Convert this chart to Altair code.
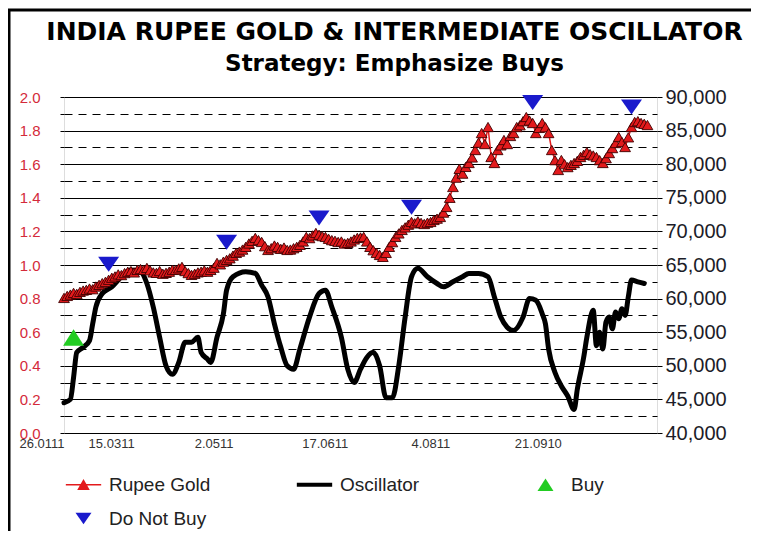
import altair as alt
import pandas as pd

# ---------------- data ----------------
# Rupee gold, one value per trading day (right axis)
gold_values = [
    60100, 60400, 60600, 60850, 60700, 61000, 61200, 61300, 61500, 61400,
    61800, 62050, 62300, 62500, 62800, 63100, 63300, 63600, 63500, 63800,
    64000, 64100, 63900, 64270, 64400, 64300, 64570, 64200, 63900, 63830,
    64100, 63700, 63830, 64000, 64300, 64270, 64500, 64720, 64100, 63800,
    63530, 63700, 63900, 64000, 64200, 64000, 64270, 64600, 65310, 65100,
    65500, 65760, 66000, 66400, 66800, 67000, 67300, 67700, 68200, 68600,
    69030, 68700, 68430, 67800, 67240, 67500, 67900, 67700, 67400, 67600,
    67240, 67300, 67500, 67700, 68000, 68500, 69180, 69000, 69400, 69770,
    69500, 69300, 69180, 68900, 68700, 68600, 68430, 68500, 68200, 68290,
    68500, 68800, 69030, 69100, 69180, 68500, 67700, 67200, 66800, 66500,
    66210, 66800, 67700, 68400, 69180, 69700, 70220, 70600, 71000, 71410,
    71200, 71500, 71260, 71100, 71300, 71410, 71700, 71900, 72150, 72800,
    73640, 75000, 76610, 78000, 79300, 78600, 79600, 80180, 81000, 82110,
    83200, 84640, 83000, 85530, 81070, 80180, 82110, 82800, 83600, 83000,
    84200, 84640, 85530, 85800, 86400, 87020, 86500, 86130, 84640, 85400,
    86130, 85500, 84640, 82110, 80600, 79140, 80620, 80000, 79570, 79900,
    80180, 80500, 81070, 81400, 81810, 81500, 81300, 81070, 80600, 80180,
    80900, 81660, 82400, 83150, 84050, 83300, 82560, 84000, 85530, 86280,
    86400, 86130, 86000, 85830,
]
gold_days = list(range(len(gold_values)))

# Intermediate oscillator (left axis)
osc_days = [0, 2, 3, 4, 6, 8, 9, 10, 12, 15, 18, 21, 24, 26, 28, 30, 32, 34, 36, 38,
            40, 42, 43, 45, 46, 48, 50, 51, 53, 57, 60, 62, 64, 66, 68, 70, 72, 74, 77, 80,
            82, 84, 87, 89, 91, 93, 95, 97, 99, 101, 103, 105, 107, 109, 111, 114, 117, 119, 122, 125,
            127, 130, 133, 135, 137, 139, 141, 144, 146, 148, 150, 151, 152, 154, 156, 158, 160, 161, 163, 164,
            166, 167, 168, 169, 170, 171, 172, 173, 174, 175, 176, 177, 178, 180, 182]
osc_values = [0.18, 0.20, 0.33, 0.48, 0.51, 0.55, 0.65, 0.75, 0.83, 0.87, 0.93, 0.97, 0.96, 0.89, 0.75, 0.57, 0.40, 0.35, 0.42, 0.54,
              0.54, 0.57, 0.48, 0.44, 0.42, 0.57, 0.71, 0.85, 0.93, 0.96, 0.95, 0.88, 0.81, 0.65, 0.51, 0.40, 0.38, 0.50, 0.69, 0.83,
              0.85, 0.75, 0.57, 0.38, 0.30, 0.38, 0.45, 0.48, 0.40, 0.21, 0.21, 0.40, 0.69, 0.93, 0.98, 0.93, 0.89, 0.87, 0.90, 0.93,
              0.95, 0.95, 0.93, 0.81, 0.69, 0.63, 0.61, 0.69, 0.80, 0.79, 0.71, 0.65, 0.50, 0.36, 0.28, 0.22, 0.14, 0.26, 0.45, 0.57,
              0.73, 0.52, 0.60, 0.50, 0.66, 0.69, 0.62, 0.72, 0.68, 0.74, 0.70, 0.81, 0.91, 0.90, 0.89]

# Signals (plotted on the gold axis)
buy_days = [3]
buy_values = [54200]
dnb_days = [14, 51, 80, 109, 147, 178]
dnb_values = [65100, 68400, 72000, 73600, 89200, 88500]

# Axis tick labels
x_tick_days = [0, 22, 53, 89, 121, 156]
x_tick_labels = ["26.0111", "15.0311", "2.0511", "17.0611", "4.0811", "21.0910"]
left_ticks = [round(i * 0.1, 1) for i in range(21)]
right_ticks = list(range(40000, 90001, 5000))

# legend order (domain order chosen so entries lay out as in the reference)
series_names = ["Rupee Gold", "Buy", "Oscillator", "Do Not Buy"]
series_colors = ["#e31a1c", "#22cc22", "#000000", "#1a1acc"]
series_shapes = [
    "M-1.55,-0.07H1.55V0.07H-1.55Z M0,-0.5L0.55,0.45H-0.55Z",
    "M0,-0.55L0.7,0.55H-0.7Z",
    "M-1.55,-0.18H1.55V0.18H-1.55Z",
    "M-0.7,-0.5H0.7L0,0.5Z",
]

# ---------------- tables ----------------
gold_df = pd.DataFrame({"day": gold_days, "value": gold_values, "series": "Rupee Gold"})
osc_df = pd.DataFrame({"day": osc_days, "value": osc_values})
sig_df = pd.DataFrame({
    "day": buy_days + dnb_days,
    "value": buy_values + dnb_values,
    "series": ["Buy"] * len(buy_days) + ["Do Not Buy"] * len(dnb_days),
})

XDOM = [0, 186]
x_expr = "[" + ",".join("'%s'" % s for s in x_tick_labels) + "][indexof([" + \
    ",".join(str(d) for d in x_tick_days) + "], datum.value)]"

legend = alt.Legend(
    title=None, orient="none", legendX=8, legendY=376, columns=3,
    symbolSize=520, symbolStrokeWidth=0, labelFont="Liberation Sans",
    labelFontSize=19, labelColor="#222222", labelOffset=14,
    columnPadding=85, rowPadding=12, gridAlign="all",
)
color_enc = alt.Color("series:N", scale=alt.Scale(domain=series_names, range=series_colors), legend=legend)
shape_enc = alt.Shape("series:N", scale=alt.Scale(domain=series_names, range=series_shapes), legend=legend)

x_axis = alt.Axis(values=x_tick_days, labelExpr=x_expr, labelAlign="right",
                  labelFont="Liberation Sans", labelFontSize=13, labelColor="#333333",
                  tickSize=0, domain=False, grid=False, labelPadding=4, title=None)
x_enc = alt.X("day:Q", scale=alt.Scale(domain=XDOM, nice=False, zero=False), axis=x_axis)

left_axis = alt.Axis(
    values=left_ticks,
    labelExpr="round(datum.value*10) % 2 == 0 ? format(datum.value, '.1f') : ''",
    grid=True, gridColor="black", gridWidth=1, gridOpacity=1,
    gridDash={"condition": {"test": "round(datum.value*10) % 2 == 1", "value": [8, 6]}, "value": []},
    labelColor="#d42a3a", labelFont="Liberation Sans", labelFontSize=15,
    tickColor="black", tickSize=4, domain=False, labelPadding=20, title=None,
)
right_axis = alt.Axis(
    orient="right", values=right_ticks, format=",d", grid=False,
    labelFont="Liberation Sans", labelFontSize=20, labelColor="#1c1c28",
    tickColor="black", tickSize=5, labelPadding=3, domain=False, title=None,
)
left_scale = alt.Scale(domain=[0, 2], nice=False, zero=False)
right_scale = alt.Scale(domain=[40000, 90000], nice=False, zero=False)
y_right = alt.Y("value:Q", scale=right_scale, axis=right_axis)

# left group: oscillator + chart frame
osc_line = alt.Chart(osc_df).mark_line(
    color="black", strokeWidth=5, interpolate="monotone", strokeJoin="round", strokeCap="round"
).encode(
    x=x_enc,
    y=alt.Y("value:Q", scale=left_scale, axis=left_axis),
)

frame_left = alt.Chart(alt.Data(values=[{}])).mark_rule(color="black", strokeWidth=3).encode(
    x=alt.value(-55), y=alt.value(-88), y2=alt.value(440))
frame_top = alt.Chart(alt.Data(values=[{}])).mark_rule(color="black", strokeWidth=3).encode(
    x=alt.value(-56), x2=alt.value(687), y=alt.value(-87))

left_group = alt.layer(osc_line, frame_left, frame_top)

# right group: gold + signals
gold_line = alt.Chart(gold_df).mark_line(color="#e31a1c", strokeWidth=1.5).encode(
    x=x_enc, y=y_right,
)
gold_pts = alt.Chart(gold_df).mark_point(
    filled=True, shape="triangle-up", size=115, stroke="#400000", strokeWidth=0.9, opacity=1
).encode(
    x=x_enc, y=y_right, color=color_enc,
)
sig_pts = alt.Chart(sig_df).mark_point(filled=True, size=900, opacity=1).encode(
    x=x_enc, y=y_right, color=color_enc, shape=shape_enc,
)
right_group = alt.layer(gold_line, gold_pts, sig_pts)

chart = alt.layer(left_group, right_group).resolve_scale(y="independent").properties(
    width=593, height=336,
    autosize=alt.AutoSizeParams(type="none"),
    padding={"left": 56, "top": 89, "right": 94, "bottom": 98},
    title=alt.TitleParams(
        text="INDIA RUPEE GOLD & INTERMEDIATE OSCILLATOR",
        subtitle="Strategy: Emphasize Buys",
        font="DejaVu Sans", fontSize=25, fontWeight="bold", color="black",
        subtitleFont="DejaVu Sans", subtitleFontSize=23, subtitleFontWeight="bold",
        subtitleColor="black", subtitlePadding=8, anchor="middle", dx=34, dy=68, offset=0,
    ),
).configure_view(stroke="black", strokeWidth=1.5).configure(background="white")

chart.save("out.html", embed_options={"renderer": "svg", "actions": False})
